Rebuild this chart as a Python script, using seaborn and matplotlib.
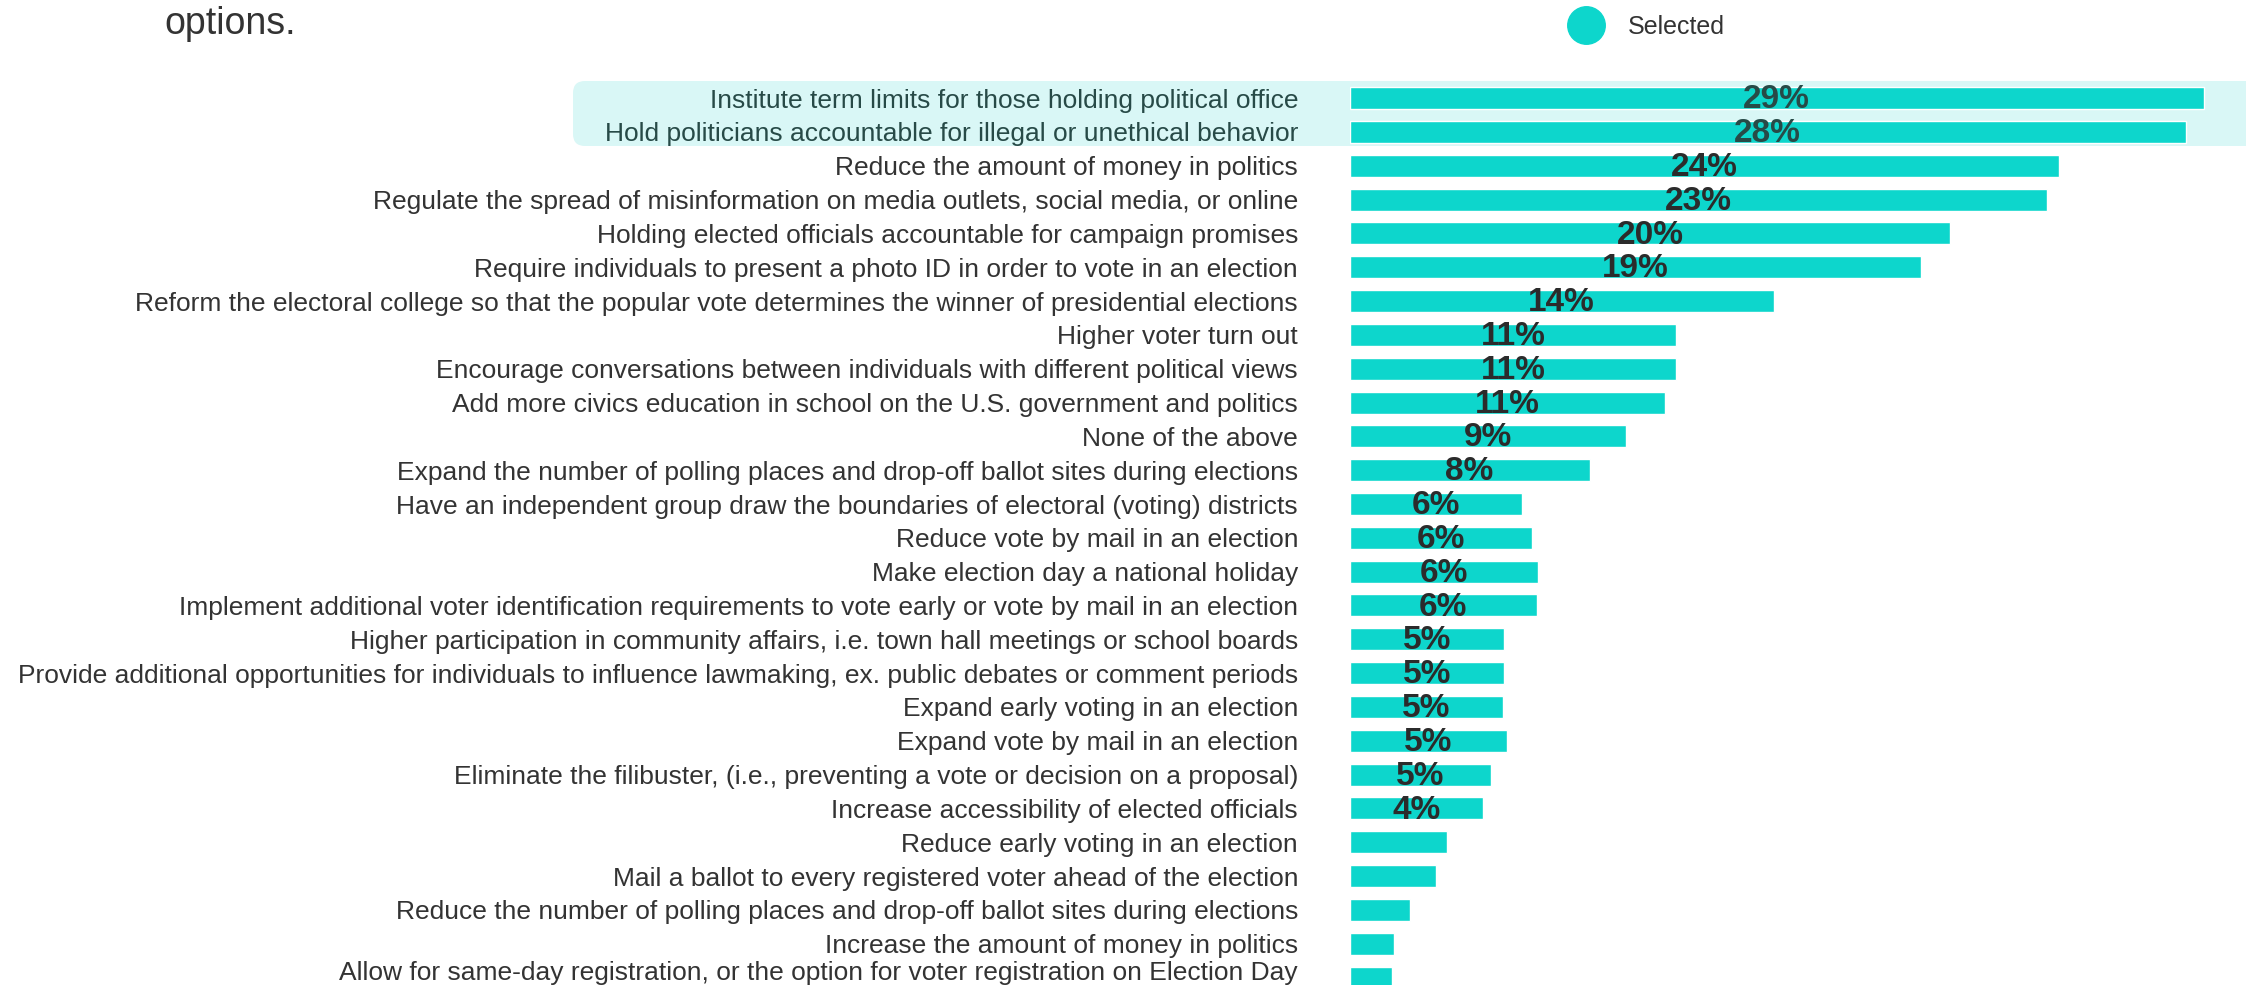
import numpy as np
import pandas as pd
import matplotlib
matplotlib.use("Agg")
import matplotlib.pyplot as plt
import matplotlib.transforms as mtransforms
from matplotlib.patches import FancyBboxPatch
from matplotlib.lines import Line2D
import seaborn as sns

categories = [
    "Institute term limits for those holding political office",
    "Hold politicians accountable for illegal or unethical behavior",
    "Reduce the amount of money in politics",
    "Regulate the spread of misinformation on media outlets, social media, or online",
    "Holding elected officials accountable for campaign promises",
    "Require individuals to present a photo ID in order to vote in an election",
    "Reform the electoral college so that the popular vote determines the winner of presidential elections",
    "Higher voter turn out",
    "Encourage conversations between individuals with different political views",
    "Add more civics education in school on the U.S. government and politics",
    "None of the above",
    "Expand the number of polling places and drop-off ballot sites during elections",
    "Have an independent group draw the boundaries of electoral (voting) districts",
    "Reduce vote by mail in an election",
    "Make election day a national holiday",
    "Implement additional voter identification requirements to vote early or vote by mail in an election",
    "Higher participation in community affairs, i.e. town hall meetings or school boards",
    "Provide additional opportunities for individuals to influence lawmaking, ex. public debates or comment periods",
    "Expand early voting in an election",
    "Expand vote by mail in an election",
    "Eliminate the filibuster, (i.e., preventing a vote or decision on a proposal)",
    "Increase accessibility of elected officials",
    "Reduce early voting in an election",
    "Mail a ballot to every registered voter ahead of the election",
    "Reduce the number of polling places and drop-off ballot sites during elections",
    "Increase the amount of money in politics",
    "Allow for same-day registration, or the option for voter registration on Election Day",
]

selected = [29.0, 28.4, 24.1, 23.7, 20.4, 19.4, 14.4, 11.1, 11.1, 10.7, 9.4, 8.15,
            5.85, 6.2, 6.4, 6.35, 5.25, 5.25, 5.2, 5.35, 4.8, 4.55,
            3.3, 2.95, 2.05, 1.5, 1.45]

pct_labels = ["29%", "28%", "24%", "23%", "20%", "19%", "14%", "11%", "11%", "11%",
              "9%", "8%", "6%", "6%", "6%", "6%", "5%", "5%", "5%", "5%", "5%", "4%",
              "", "", "", "", ""]

highlighted = [0, 1]

bar_color = "#0dd6cc"
text_color = "#333333"
hl_text_color = "#274a47"

df = pd.DataFrame({"option": categories, "pct": selected})

sns.set_style("white")
plt.rcParams["font.family"] = ["Liberation Sans", "DejaVu Sans"]

W, H = 2246, 985
fig = plt.figure(figsize=(W / 100, H / 100), dpi=100)
fig.patch.set_facecolor("white")

# bars start at x~1350px, 29.45 px per percent
x0 = 1349.5
ax = fig.add_axes([x0 / W, 0, 1 - x0 / W, 1])
ax.patch.set_visible(False)
ax.set_zorder(2)

sns.barplot(data=df, x="pct", y="option", orient="h", color=bar_color,
            width=0.65, saturation=1, ax=ax)

ax.set_xlim(0, (W - x0) / 29.45)
ax.set_ylim(26.22, -2.9)
ax.set_xlabel("")
ax.set_ylabel("")
ax.set_xticks([])
sns.despine(ax=ax, left=True, bottom=True)

ax.set_yticks(range(len(categories)))
ax.set_yticklabels(categories, fontsize=19)
ax.tick_params(axis="y", length=0, pad=37)
ticklabels = ax.get_yticklabels()
for i, t in enumerate(ticklabels):
    t.set_color(hl_text_color if i in highlighted else text_color)
# last label sits a little higher, as in the source
ticklabels[-1].set_transform(ticklabels[-1].get_transform() +
                             mtransforms.ScaledTranslation(0, 5 / 72, fig.dpi_scale_trans))

for i, (v, lab) in enumerate(zip(selected, pct_labels)):
    if lab:
        ax.text(v / 2, i + 0.30, lab, ha="center", va="baseline", fontsize=24,
                fontweight="bold",
                color=hl_text_color if i in highlighted else "#2b2b2b")

# highlight band behind the first two rows (pixel coordinates)
band = FancyBboxPatch((573, H - 146), W - 573 + 40, 65,
                      boxstyle="round,pad=0,rounding_size=12",
                      transform=mtransforms.IdentityTransform(),
                      facecolor="#d9f7f6", edgecolor="none", zorder=0)
fig.add_artist(band)

fig.text(164 / W, 1 - 34 / H, "options.", fontsize=27, color=text_color,
         va="baseline", ha="left")

handle = Line2D([], [], marker="o", linestyle="", markersize=27,
                markerfacecolor=bar_color, markeredgecolor=bar_color)
fig.legend([handle], ["Selected"], loc="center left",
           bbox_to_anchor=(1538 / W, 1 - 27 / H), frameon=False,
           fontsize=18, handletextpad=0.7, labelcolor=text_color)

fig.savefig("out.png", dpi=100, facecolor="white")
